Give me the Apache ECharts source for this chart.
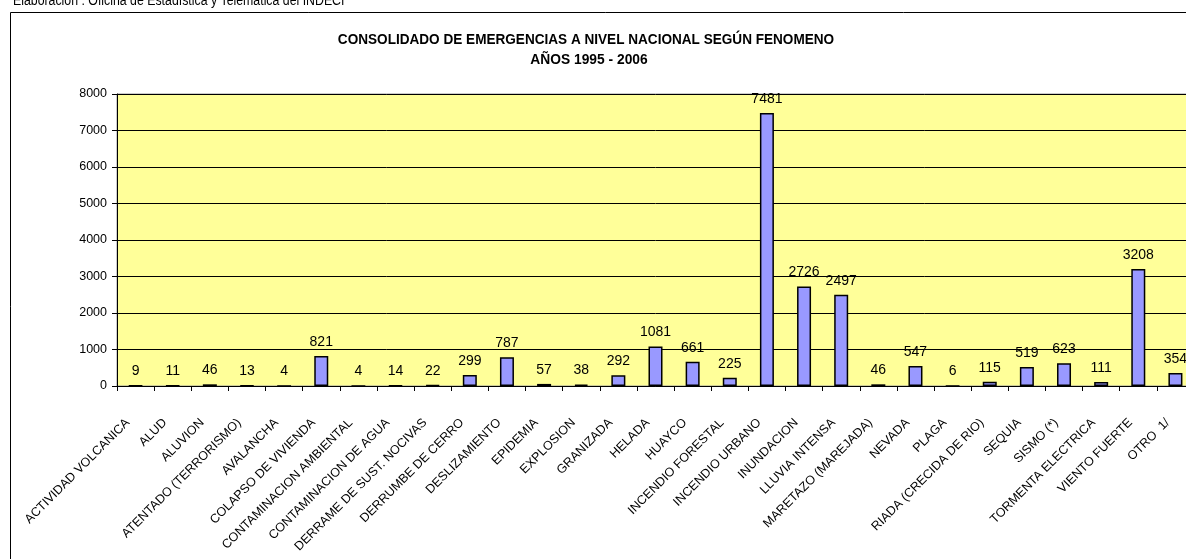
<!DOCTYPE html>
<html>
<head>
<meta charset="utf-8">
<script src="https://cdn.jsdelivr.net/npm/echarts@6/dist/echarts.min.js"></script>
<style>
html,body{margin:0;padding:0;overflow:hidden;background:#fff;width:1186px;height:559px;}
#c{position:absolute;left:0;top:0;width:1200px;height:600px;}
</style>
</head>
<body>
<div id="c"></div>
<script>
const categories = [
  "ACTIVIDAD VOLCANICA","ALUD","ALUVION","ATENTADO (TERRORISMO)","AVALANCHA",
  "COLAPSO DE VIVIENDA","CONTAMINACION AMBIENTAL","CONTAMINACION DE AGUA",
  "DERRAME DE SUST. NOCIVAS","DERRUMBE DE CERRO","DESLIZAMIENTO","EPIDEMIA",
  "EXPLOSION","GRANIZADA","HELADA","HUAYCO","INCENDIO FORESTAL","INCENDIO URBANO",
  "INUNDACION","LLUVIA INTENSA","MARETAZO (MAREJADA)","NEVADA","PLAGA",
  "RIADA (CRECIDA DE RIO)","SEQUIA","SISMO (*)","TORMENTA ELECTRICA",
  "VIENTO FUERTE","OTRO  1/"
];
const values = [9,11,46,13,4,821,4,14,22,299,787,57,38,292,1081,661,225,7481,2726,2497,46,547,6,115,519,623,111,3208,354];
const titleLine1 = "CONSOLIDADO DE EMERGENCIAS A NIVEL NACIONAL SEGÚN FENOMENO";
const titleLine2 = "AÑOS 1995 - 2006";
const sourceText = "Elaboración : Oficina de Estadística y Telemática del INDECI";
const yMin = 0, yMax = 8000, yStep = 1000;

const SANS = "'Liberation Sans',Arial,sans-serif";

const chart = echarts.init(document.getElementById('c'), null, {renderer:'canvas'});
chart.setOption({
  animation:false,
  backgroundColor:'#ffffff',
  graphic:[
    {type:'rect', silent:true, shape:{x:10.5,y:12.5,width:1400,height:800},
     style:{fill:'none',stroke:'#000',lineWidth:1}},
    {type:'text', x:13, y:1, scaleX:0.88, style:{text:sourceText, x:0, y:0, verticalAlign:'middle', font:"14px "+SANS, fill:'#000'}},
    {type:'text', x:586, y:40, scaleX:0.905, style:{text:titleLine1, x:0, y:0, align:'center', verticalAlign:'middle', font:"bold 15px "+SANS, fill:'#000'}},
    {type:'text', x:589, y:60, scaleX:0.92, style:{text:titleLine2, x:0, y:0, align:'center', verticalAlign:'middle', font:"bold 15px "+SANS, fill:'#000'}}
  ],
  grid:{left:117, top:94, width:1077, height:292, show:true, backgroundColor:'#FFFF99', borderColor:'#999', borderWidth:1},
  xAxis:{
    type:'category', data:categories, boundaryGap:true,
    axisLine:{show:true, lineStyle:{color:'#000', width:1}},
    axisTick:{show:true, alignWithLabel:false, interval:0, length:5, lineStyle:{color:'#000'}},
    axisLabel:{interval:0, rotate:45, margin:27, padding:[0,11,0,0], color:'#000', fontFamily:SANS, fontSize:12.5}
  },
  yAxis:{
    type:'value', min:yMin, max:yMax, interval:yStep,
    axisLine:{show:true, lineStyle:{color:'#000', width:1}},
    axisTick:{show:true, length:5, lineStyle:{color:'#000'}},
    axisLabel:{margin:10, color:'#000', fontFamily:SANS, fontSize:12.5, formatter:function(v){return String(v);}},
    splitLine:{show:true, lineStyle:{color:'#000', width:1}}
  },
  series:[{
    type:'bar', data:values, barWidth:14,
    itemStyle:{color:'#9999FF', borderColor:'#000', borderWidth:1.5},
    label:{show:true, position:'top', distance:7, color:'#000', fontFamily:SANS, fontSize:14}
  }]
});
</script>
</body>
</html>
